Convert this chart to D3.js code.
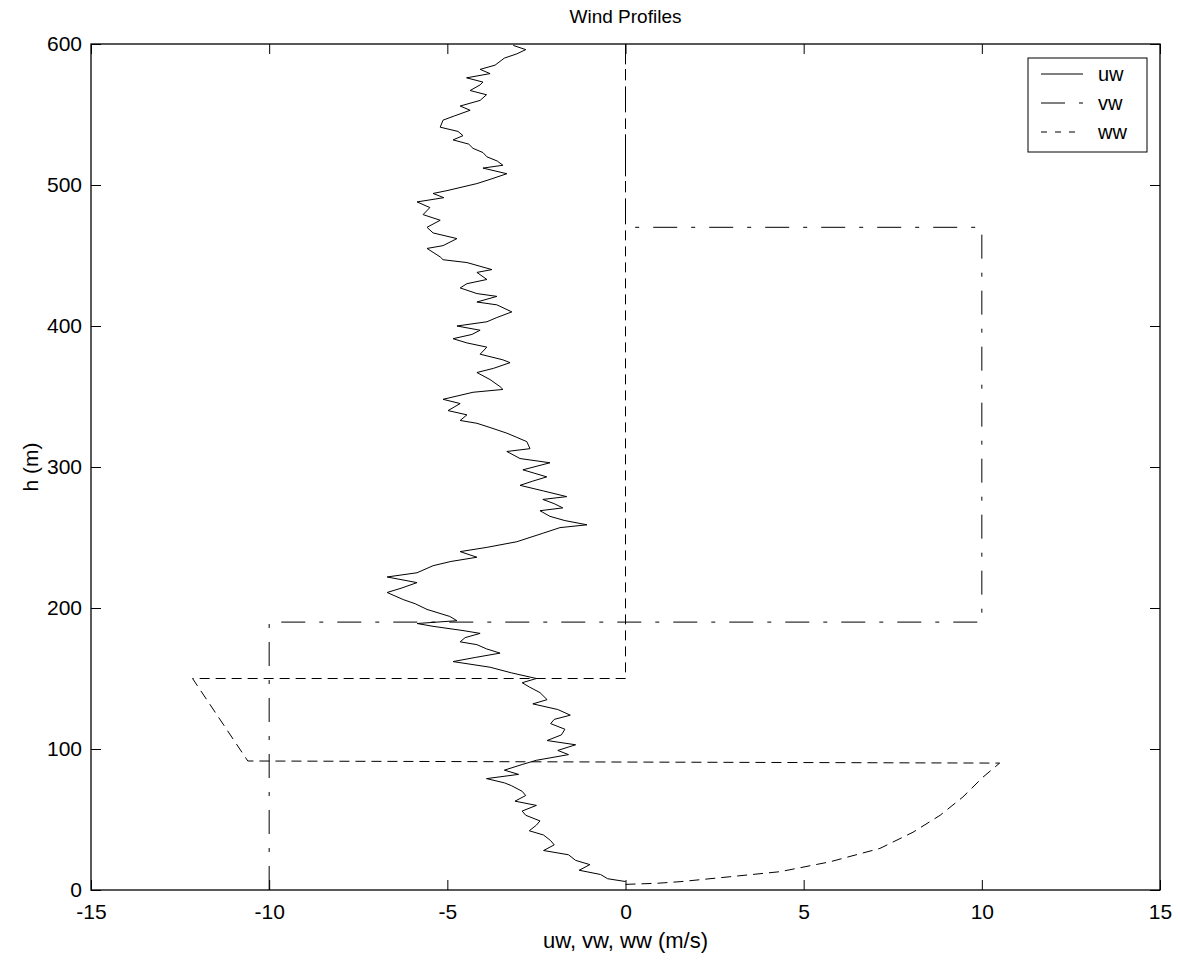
<!DOCTYPE html>
<html>
<head>
<meta charset="utf-8">
<script src="https://cdn.jsdelivr.net/npm/d3@7"></script>
<style>
  body { margin: 0; background: #fff; }
  svg { display: block; font-family: "Liberation Sans", Arial, Helvetica, sans-serif; }
</style>
</head>
<body>
<svg id="chart" width="1180" height="961"></svg>
<script>
// uw: turbulent profile (height in m, speed in m/s)
const uwHeight = [599, 596, 593, 590, 585, 582, 579, 576, 573, 571, 567, 564, 560, 556, 553, 549, 546, 541, 538, 535,
  532, 529, 526, 523, 520, 517, 514, 512, 508, 504, 501, 496, 494, 491, 488, 484, 479, 475, 470, 466,
  462, 457, 455, 449, 447, 445, 440, 438, 433, 430, 427, 423, 421, 417, 415, 410, 406, 403, 400, 397,
  394, 391, 388, 385, 380, 376, 374, 370, 367, 362, 357, 355, 353, 348, 345, 340, 337, 333, 331, 328,
  324, 321, 318, 313, 311, 306, 303, 298, 293, 290, 287, 283, 279, 277, 274, 271, 269, 265, 262, 259,
  257, 253, 247, 243, 240, 236, 233, 230, 225, 222, 218, 214, 211, 206, 203, 199, 194, 191, 189, 187,
  184, 182, 179, 176, 174, 171, 168, 165, 162, 158, 154, 150, 147, 144, 140, 135, 132, 128, 124, 121,
  118, 114, 110, 106, 103, 99, 96, 92, 89, 85, 82, 79, 76, 74, 70, 67, 63, 60, 56, 53,
  49, 46, 42, 39, 35, 32, 28, 25, 21, 18, 14, 11, 8, 6];
const uwSpeed = [-3.15, -2.8, -3.05, -3.4, -3.66, -4.08, -3.8, -4.46, -4.0, -4.08, -4.36, -3.9, -4.08, -4.64, -4.36, -4.8, -5.12, -5.2, -4.7, -4.56,
  -4.84, -4.4, -4.28, -4.0, -3.89, -3.6, -3.44, -4.0, -3.33, -3.8, -4.17, -5.01, -5.4, -5.1, -5.85, -5.49, -5.68, -5.2, -5.57, -5.4,
  -4.73, -5.12, -5.57, -5.2, -5.12, -4.45, -3.75, -4.17, -3.89, -4.45, -4.64, -4.17, -3.61, -4.17, -3.61, -3.19, -3.61, -3.89, -4.73, -4.08,
  -4.31, -4.84, -4.45, -3.89, -4.08, -3.44, -3.24, -3.7, -4.17, -3.8, -3.52, -3.44, -4.28, -5.12, -4.64, -4.98, -4.45, -4.64, -4.17, -3.8,
  -3.33, -3.05, -2.77, -2.68, -3.33, -2.96, -2.12, -2.88, -2.21, -2.6, -2.96, -2.3, -1.65, -2.32, -2.0, -1.76, -2.4, -2.12, -1.7, -1.08,
  -1.84, -2.32, -3.05, -3.89, -4.64, -4.17, -4.9, -5.4, -5.85, -6.69, -5.85, -6.3, -6.69, -6.24, -5.9, -5.57, -4.93, -4.73, -5.85, -5.4,
  -4.56, -4.08, -4.5, -4.64, -4.17, -3.9, -3.52, -4.2, -4.84, -3.8, -3.2, -2.5, -2.9, -2.7, -2.4, -2.2, -2.6, -1.9, -1.55, -2.0,
  -2.1, -1.7, -1.8, -2.2, -1.4, -1.9, -1.6, -2.5, -2.9, -3.4, -3.0, -3.9, -3.4, -3.2, -2.9, -2.8, -3.1, -2.5, -2.9, -2.8,
  -2.4, -2.5, -2.7, -2.3, -2.1, -2.0, -2.3, -1.6, -1.4, -1.0, -1.3, -0.7, -0.5, 0];

// vw: piecewise constant
const vwHeight = [0, 190, 190, 470, 470, 600];
const vwSpeed = [-10, -10, 10, 10, 0, 0];

// ww: shear near ground, then downdraft band
const wwHeight = [4, 4.75, 5.9, 9.4, 13, 20, 29.5, 41, 53, 66, 80, 90, 91.5, 150, 150, 600];
const wwSpeed = [0, 0.88, 1.53, 2.93, 4.34, 5.74, 7.14, 8.07, 8.83, 9.47, 10.03, 10.5, -10.6, -12.15, 0, 0];

const xTicks = [-15, -10, -5, 0, 5, 10, 15];
const yTicks = [0, 100, 200, 300, 400, 500, 600];

const series = [
  { name: "uw", h: uwHeight, v: uwSpeed, dash: null },
  { name: "vw", h: vwHeight, v: vwSpeed, dash: "24,14,4,14" },
  { name: "ww", h: wwHeight, v: wwSpeed, dash: "10,6" }
];

const margin = { left: 91, right: 20, top: 44, bottom: 71 };
const W = 1180, H = 961;
const iw = W - margin.left - margin.right;
const ih = H - margin.top - margin.bottom;

const svg = d3.select("#chart");
const g = svg.append("g").attr("transform", `translate(${margin.left},${margin.top})`);

const x = d3.scaleLinear().domain([-15, 15]).range([0, iw]);
const y = d3.scaleLinear().domain([0, 600]).range([ih, 0]);

// lines
const line = d3.line().x((d) => x(d[1])).y((d) => y(d[0]));
series.forEach((s) => {
  g.append("path")
    .datum(s.h.map((h, i) => [h, s.v[i]]))
    .attr("d", line)
    .attr("fill", "none")
    .attr("stroke", "#000")
    .attr("stroke-width", 1)
    .attr("stroke-dasharray", s.dash);
});

// axes, MATLAB style: ticks inside on all four sides
const tl = 10;
const fmt = (d) => String(d); // plain hyphen minus like the original
const axisStyle = (sel) => {
  sel.attr("font-family", null).attr("font-size", null);
  sel.select(".domain").remove();
  sel.selectAll(".tick line").attr("stroke", "#000");
  sel.selectAll(".tick text").attr("font-size", 21).attr("fill", "#000");
};
g.append("g").attr("transform", `translate(0,${ih})`)
  .call(d3.axisBottom(x).tickValues(xTicks).tickSize(-tl).tickPadding(14).tickFormat(fmt))
  .call(axisStyle);
g.append("g")
  .call(d3.axisTop(x).tickValues(xTicks).tickSize(-tl).tickFormat(""))
  .call(axisStyle);
g.append("g")
  .call(d3.axisLeft(y).tickValues(yTicks).tickSize(-tl).tickPadding(9).tickFormat(fmt))
  .call(axisStyle);
g.append("g").attr("transform", `translate(${iw},0)`)
  .call(d3.axisRight(y).tickValues(yTicks).tickSize(-tl).tickFormat(""))
  .call(axisStyle);

g.append("rect")
  .attr("width", iw).attr("height", ih)
  .attr("fill", "none").attr("stroke", "#000").attr("stroke-width", 1.3);

// titles
svg.append("text").attr("x", margin.left + iw / 2).attr("y", 23)
  .attr("text-anchor", "middle").attr("font-size", 19).text("Wind Profiles");
svg.append("text").attr("x", margin.left + iw / 2).attr("y", 948)
  .attr("text-anchor", "middle").attr("font-size", 22).text("uw, vw, ww (m/s)");
svg.append("text").attr("transform", `translate(38,${margin.top + ih / 2}) rotate(-90)`)
  .attr("text-anchor", "middle").attr("font-size", 21).text("h (m)");

// legend
const lg = svg.append("g").attr("transform", "translate(1028,58)");
lg.append("rect").attr("width", 119).attr("height", 94)
  .attr("fill", "#fff").attr("stroke", "#000").attr("stroke-width", 1);
series.forEach((s, i) => {
  const yy = 16 + i * 29;
  lg.append("line").attr("x1", 13).attr("x2", 55).attr("y1", yy).attr("y2", yy)
    .attr("stroke", "#000").attr("stroke-width", 1).attr("stroke-dasharray", s.name === "ww" ? "6,8" : s.dash);
  lg.append("text").attr("x", 70).attr("y", yy).attr("dy", "0.35em")
    .attr("font-size", 20).text(s.name);
});
</script>
</body>
</html>
